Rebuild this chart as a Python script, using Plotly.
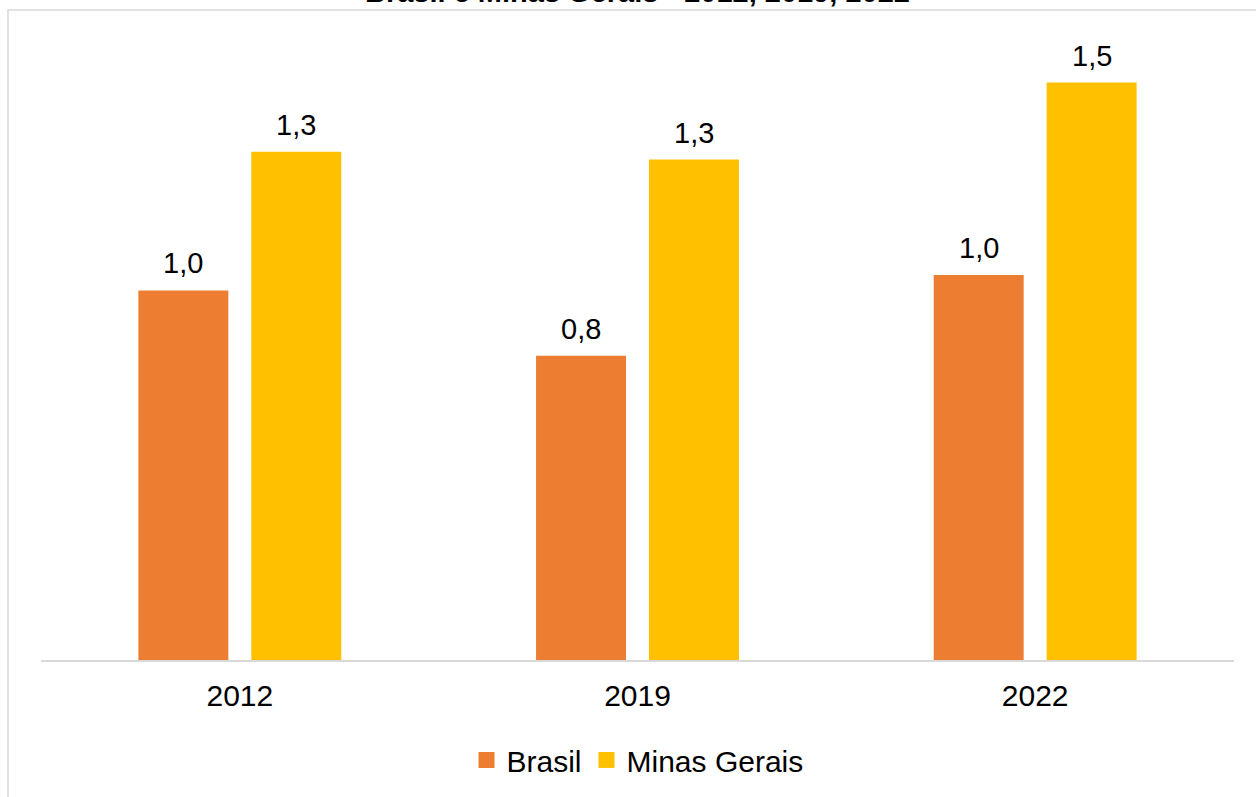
import plotly.graph_objects as go

years = ["2012", "2019", "2022"]
brasil = [0.96, 0.79, 1.00]
minas = [1.32, 1.30, 1.50]
series_names = ["Brasil", "Minas Gerais"]
colors = ["#ED7D31", "#FFC000"]
title_text = "Brasil e Minas Gerais - 2012, 2019, 2022"

FONT = "Liberation Sans, Arial, sans-serif"
fsize = 30

fig = go.Figure()
for name, vals, col in zip(series_names, [brasil, minas], colors):
    fig.add_trace(go.Bar(x=years, y=vals, name=name, marker=dict(color=col, line=dict(width=0)),
                         showlegend=False, xaxis="x", yaxis="y"))
for name, col in zip(series_names, colors):
    fig.add_trace(go.Scatter(x=[0], y=[0], mode="markers", name=name, xaxis="x2", yaxis="y2",
                             marker=dict(symbol="square", size=17, color=col), hoverinfo="skip"))

def fmt(v):
    return f"{v:.1f}".replace(".", ",")

annotations = []
for vals, shift in [(brasil, -56.5), (minas, 56.5)]:
    for i, v in enumerate(vals):
        annotations.append(dict(x=i, y=v, xref="x", yref="y", text=fmt(v),
                                showarrow=False, yanchor="bottom", xshift=shift,
                                yshift=9, font=dict(size=29, color="#000000", family=FONT)))

annotations.append(dict(x=0.5, y=1, xref="paper", yref="paper", text="<b>" + title_text + "</b>",
                        showarrow=False, yanchor="middle", yshift=52,
                        font=dict(size=29, color="#000000", family=FONT)))

fig.update_layout(
    width=1256, height=797,
    margin=dict(l=41, r=22, t=44, b=137, autoexpand=False),
    paper_bgcolor="white", plot_bgcolor="white",
    barmode="group", bargap=0.432, bargroupgap=0.2035,
    font=dict(family=FONT, size=fsize, color="#000000"),
    xaxis=dict(type="category", showline=True, linecolor="#D9D9D9", linewidth=1.5, ticks="",
               showgrid=False, tickfont=dict(size=fsize), ticklabelstandoff=8),
    yaxis=dict(range=[0, 1.6], visible=False, showgrid=False),
    xaxis2=dict(domain=[0, 0.01], range=[10, 11], visible=False, anchor="y2"),
    yaxis2=dict(domain=[0, 0.01], range=[10, 11], visible=False, anchor="x2"),
    legend=dict(orientation="h", x=0.5, xanchor="center", y=-0.12, yanchor="top",
                font=dict(size=fsize), itemwidth=30, tracegroupgap=0),
    annotations=annotations,
    shapes=[dict(type="rect", xref="paper", yref="paper",
                 x0=(8 - 41) / 1193, x1=1.2, y0=-0.5, y1=(660 - 10) / 616,
                 line=dict(color="#D9D9D9", width=1.5), fillcolor="rgba(0,0,0,0)", layer="below")],
)

fig.write_html("out.html", config={"displayModeBar": False},
               post_script="document.body.style.margin='0';")
